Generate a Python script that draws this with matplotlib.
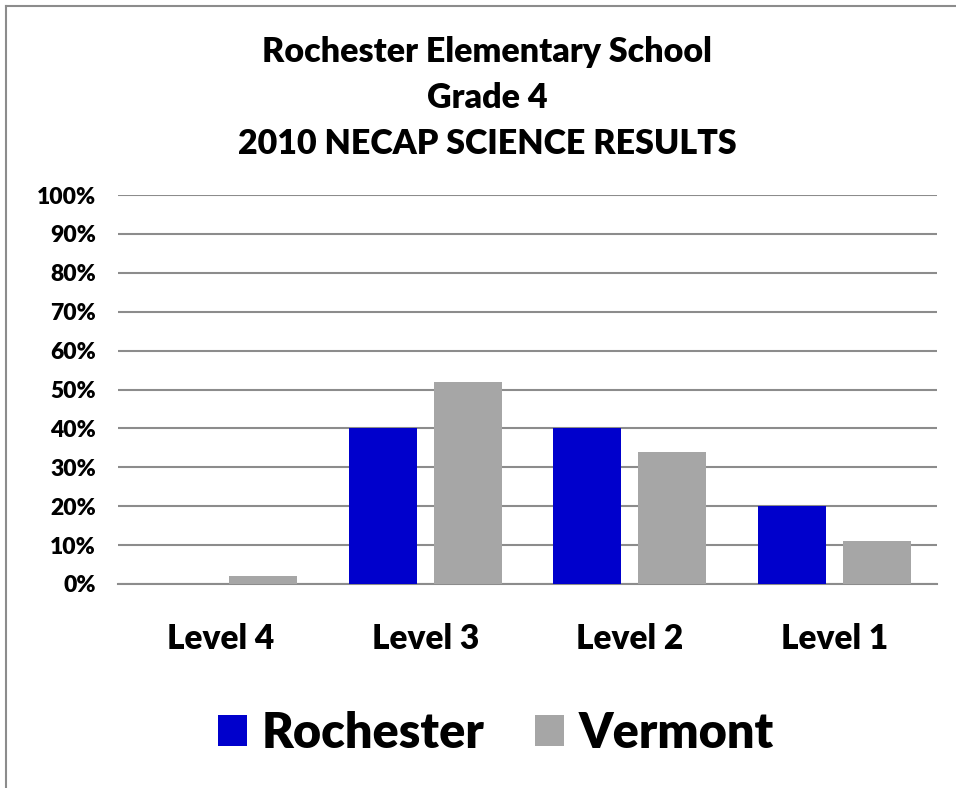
import matplotlib
matplotlib.use("Agg")
import matplotlib.pyplot as plt
import numpy as np
from matplotlib.lines import Line2D
from matplotlib.patches import Patch

categories = ["Level 4", "Level 3", "Level 2", "Level 1"]
rochester = [0, 40, 40, 20]
vermont = [2, 52, 34, 11]
yticks = [0, 10, 20, 30, 40, 50, 60, 70, 80, 90, 100]
title = "Rochester Elementary School\nGrade 4\n2010 NECAP SCIENCE RESULTS"

WT = 'heavy'
plt.rcParams['font.family'] = ['Lato', 'DejaVu Sans']
plt.rcParams['font.weight'] = WT

W, H = 956, 788
fig = plt.figure(figsize=(W/100, H/100), dpi=100)
ax = fig.add_axes([118/W, 1-584/H, (937-118)/W, (584-195)/H])

x = np.arange(len(categories))
bw = 0.332
off = 0.208
ax.bar(x - off, rochester, bw, color="#0000CC", label="Rochester", zorder=3)
ax.bar(x + off, vermont, bw, color="#A6A6A6", label="Vermont", zorder=3)

ax.set_xlim(-0.5, len(categories) - 0.5)
ax.set_ylim(0, 100)
ax.set_yticks(yticks)
ax.set_yticklabels([f"{v}%" for v in yticks], fontsize=16.5, fontweight=WT)
ax.set_xticks(x)
ax.set_xticklabels(categories, fontsize=24, fontweight=WT)
ax.tick_params(axis='y', length=0, pad=16)
ax.tick_params(axis='x', length=0, pad=28)
ax.yaxis.grid(True, color="#8C8C8C", linewidth=1.5, zorder=0)
for s in ['left', 'right', 'top']:
    ax.spines[s].set_visible(False)
ax.spines['bottom'].set_color("#8C8C8C")
ax.spines['bottom'].set_linewidth(1.5)

fig.text(487/W, 1-98/H, title, ha='center', va='center', fontsize=24.5,
         fontweight=WT, linespacing=1.52)

handles = [Patch(facecolor="#0000CC"), Patch(facecolor="#A6A6A6")]
leg = fig.legend(handles, ["Rochester", "Vermont"], loc='center',
                 bbox_to_anchor=(496/W, 1-733/H), ncol=2, frameon=False,
                 prop={'size': 35, 'weight': WT}, handlelength=0.6,
                 handleheight=0.6, handletextpad=0.3, columnspacing=1.05)

fig.add_artist(Line2D([6/W, 6/W], [0, 1-6/H], color="#8C8C8C", linewidth=1.5,
                      transform=fig.transFigure))
fig.add_artist(Line2D([6/W, 1], [1-6/H, 1-6/H], color="#8C8C8C", linewidth=1.5,
                      transform=fig.transFigure))

fig.savefig("out.png", dpi=100)
